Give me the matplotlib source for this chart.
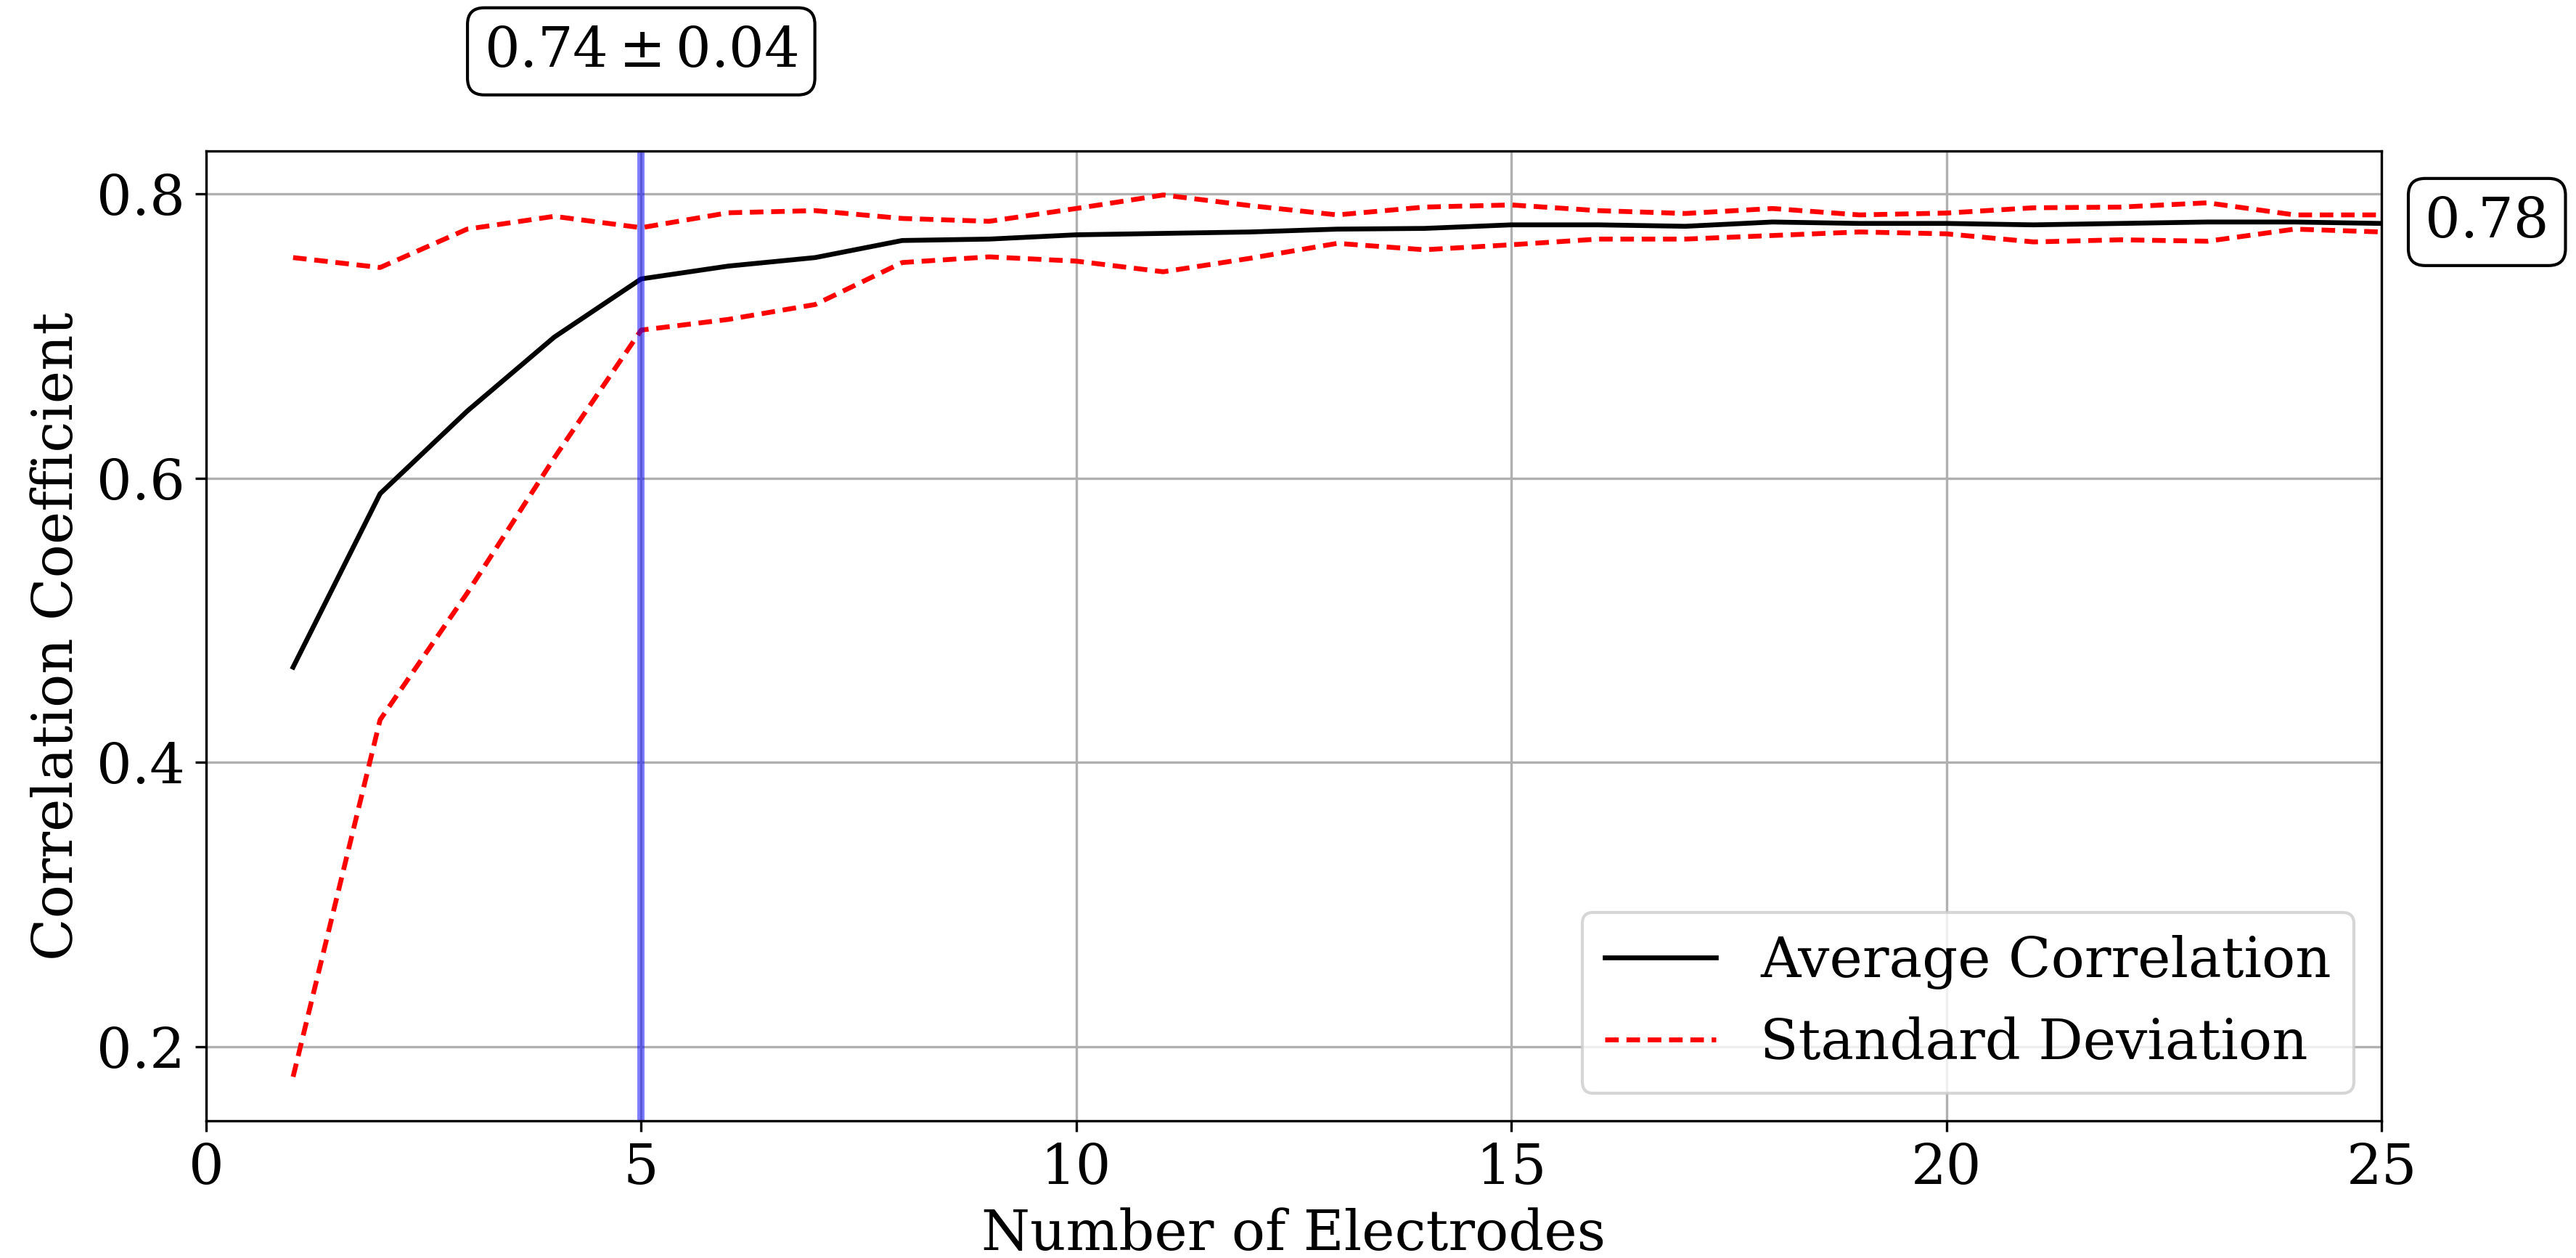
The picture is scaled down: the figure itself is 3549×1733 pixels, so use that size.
import numpy as np
import matplotlib
matplotlib.use('Agg')
from matplotlib import pyplot as plt
from matplotlib.ticker import MultipleLocator

plt.rcParams['font.family'] = 'serif'
plt.rcParams['font.serif'] = ['DejaVu Serif']
plt.rcParams['mathtext.fontset'] = 'dejavuserif'
plt.rcParams['font.size'] = 18.4

# number of electrodes used
n_electrodes = np.arange(1, 26)
# mean correlation per electrode count
avg_corr = [0.467, 0.589, 0.647, 0.699, 0.740, 0.749, 0.755, 0.767, 0.768, 0.771,
            0.772, 0.773, 0.775, 0.7755, 0.778, 0.778, 0.777, 0.780, 0.779, 0.779,
            0.778, 0.779, 0.780, 0.780, 0.779]
# standard deviation of the correlation
std_corr = [0.288, 0.159, 0.128, 0.085, 0.036, 0.0375, 0.033, 0.0155, 0.0125, 0.0185,
            0.027, 0.0185, 0.010, 0.015, 0.014, 0.010, 0.009, 0.0095, 0.006, 0.0073,
            0.012, 0.0115, 0.0135, 0.005, 0.006]
chosen = 5
chosen_label = r'$0.74 \pm 0.04$'
final_label = '0.78'
final_value = 0.78

avg = np.array(avg_corr)
std = np.array(std_corr)

fig = plt.figure(figsize=(11.83, 5.777))
ax = fig.add_axes([0.080, 0.109, 0.8445, 0.771])

dash = (0, (2.8, 1.6))
ax.plot(n_electrodes, avg, color='k', lw=1.6, label='Average Correlation')
ax.plot(n_electrodes, avg + std, color='r', ls=dash, lw=1.6, label='Standard Deviation')
ax.plot(n_electrodes, avg - std, color='r', ls=dash, lw=1.6)
ax.axvline(chosen, color='b', alpha=0.5, lw=2.4)

ax.set_xlim(0, 25)
ax.yaxis.set_major_locator(MultipleLocator(0.2))
ax.grid(True)
ax.set_xlabel('Number of Electrodes')
ax.set_ylabel('Correlation Coefficient')
ax.legend(loc='lower right')

box = dict(boxstyle='round', fc='white', ec='black')
ax.text(chosen, 0.9, chosen_label, ha='center', va='center', bbox=box, clip_on=False)
ax.text(25.5, final_value, final_label, ha='left', va='center', bbox=box, clip_on=False)

fig.savefig('out.png', dpi=300)
